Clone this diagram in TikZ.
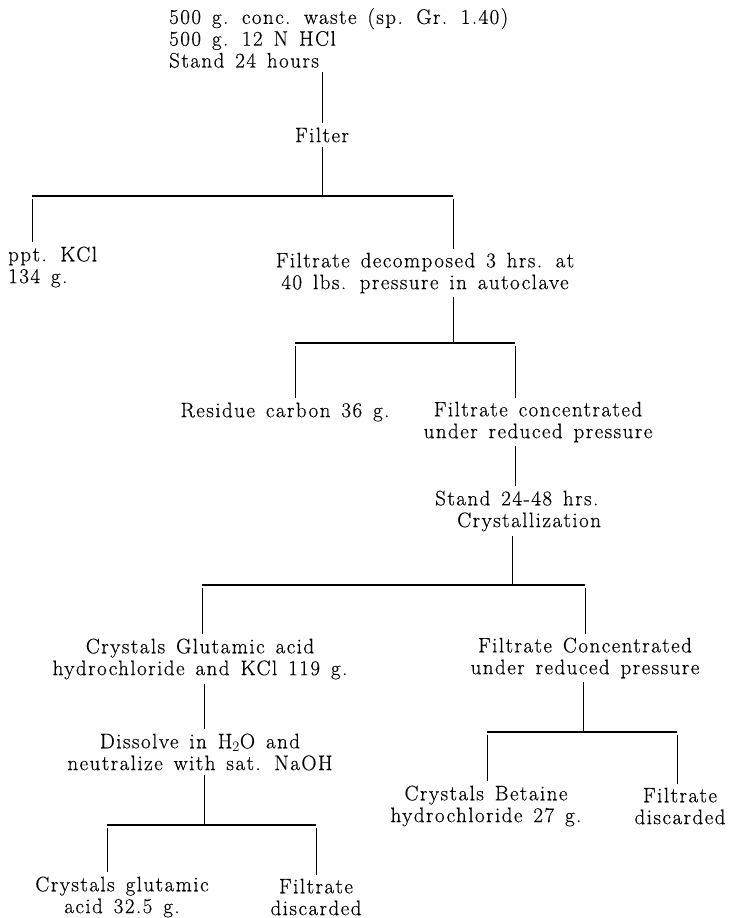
\documentclass[tikz,border=0pt]{standalone}
\usepackage{fontspec}
\setmainfont{Latin Modern Roman}[LetterSpace=7,WordSpace=1.4,FakeBold=0.4]

\begin{document}
\begin{tikzpicture}[
       x=1pt, y=-1pt,
       txt/.style={font=\fontsize{21}{21.8}\selectfont, align=center, inner xsep=0pt, inner ysep=4pt},
       stem/.style={line width=1pt},
       bar/.style={line width=1.3pt},
       drop/.style={line width=1pt, shorten <=3pt}
   ]
   \useasboundingbox (0,0) rectangle (728,918);

   % steps and products
   \node[txt, align=left, anchor=west] (waste) at (169,38)
       {500 g. conc. waste (sp. Gr. 1.40)\\500 g. 12 N HCl\\Stand 24 hours};
   \node[txt] (filter) at (322,135) {Filter};
   \node[txt, align=left, anchor=west] (kcl) at (8,267) {ppt. KCl\\134 g.};
   \node[txt] (autoclave) at (425,273) {Filtrate decomposed 3 hrs. at\\40 lbs. pressure in autoclave};
   \node[txt] (carbon) at (285,412) {Residue carbon 36 g.};
   \node[txt] (conc) at (538,422) {Filtrate concentrated\\under reduced pressure};
   \node[txt, align=left, anchor=west] (stand) at (435,511) {Stand 24-48 hrs.\\\hspace*{22pt}Crystallization};
   \node[txt] (glutcl) at (200,659) {Crystals Glutamic acid\\hydrochloride and KCl 119 g.};
   \node[txt] (conc2) at (585,658) {Filtrate Concentrated\\under reduced pressure};
   \node[txt] (dissolve) at (200,752) {Dissolve in H$_2$O and\\neutralize with sat. NaOH};
   \node[txt] (glut) at (122,897) {Crystals glutamic\\acid 32.5 g.};
   \node[txt] (waste1) at (316,897) {Filtrate\\discarded};
   \node[txt] (betaine) at (486,806) {Crystals Betaine\\hydrochloride 27 g.};
   \node[txt] (waste2) at (680,806) {Filtrate\\discarded};

   % branch points
   \coordinate (j1) at (322,196);  \coordinate (j1l) at (32,196);  \coordinate (j1r) at (453,196);
   \coordinate (j2) at (453,343);  \coordinate (j2l) at (295,343); \coordinate (j2r) at (515,343);
   \coordinate (j3) at (512,585);  \coordinate (j3l) at (202,585); \coordinate (j3r) at (585,585);
   \coordinate (j4) at (204,825);  \coordinate (j4l) at (107,825); \coordinate (j4r) at (316,825);
   \coordinate (j5) at (583,732);  \coordinate (j5l) at (487,732); \coordinate (j5r) at (677,732);

   % stems
   \draw[stem] (waste.south -| filter) -- (filter.north);
   \draw[stem] (filter.south) -- (j1);
   \draw[stem] (autoclave.south -| j2) -- (j2);
   \draw[stem] (conc.south -| j2r) -- (stand.north -| j2r);
   \draw[stem] (stand.south -| j3) -- (j3);
   \draw[stem] (glutcl.south -| j4) -- (dissolve.north -| j4);
   \draw[stem] (dissolve.south -| j4) -- (j4);
   \draw[stem] (conc2.south -| j5) -- (j5);

   % bars
   \foreach \n in {1,...,5} {
       \draw[bar] (j\n l) -- (j\n r);
   }

   % drops to the products
   \foreach \j/\n in {j1l/kcl, j1r/autoclave, j2l/carbon, j2r/conc, j3l/glutcl,
                      j3r/conc2, j4l/glut, j4r/waste1, j5l/betaine, j5r/waste2} {
       \draw[drop] (\j) -- (\n.north -| \j);
   }
\end{tikzpicture}
\end{document}
